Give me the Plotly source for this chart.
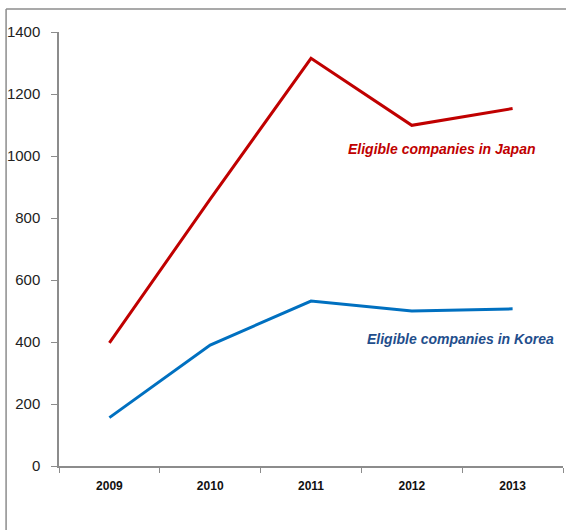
import plotly.graph_objects as go

years = ["2009", "2010", "2011", "2012", "2013"]
japan = [397, 861, 1315, 1099, 1153]
korea = [156, 390, 532, 500, 507]
y_ticks = [0, 200, 400, 600, 800, 1000, 1200, 1400]

fig = go.Figure()
fig.add_trace(go.Scatter(x=years, y=japan, mode="lines",
                         line=dict(color="#c00000", width=3), name="Japan"))
fig.add_trace(go.Scatter(x=years, y=korea, mode="lines",
                         line=dict(color="#0070c0", width=3), name="Korea"))

fig.add_annotation(x=3.3, y=1022, xref="x", yref="y", showarrow=False,
                   text="<b><i>Eligible companies in Japan</i></b>",
                   font=dict(family="Liberation Sans", size=14, color="#c00000"))
fig.add_annotation(x=3.48, y=409, xref="x", yref="y", showarrow=False,
                   text="<b><i>Eligible companies in Korea</i></b>",
                   font=dict(family="Liberation Sans", size=14, color="#1f4e8c"))

# outer border (top and left edges visible)
fig.add_shape(type="line", xref="paper", yref="paper", x0=-0.105, x1=1.1,
              y0=1.053, y1=1.053, line=dict(color="#8c8c8c", width=1.5))
fig.add_shape(type="line", xref="paper", yref="paper", x0=-0.105, x1=-0.105,
              y0=1.053, y1=-0.3, line=dict(color="#8c8c8c", width=1.5))

fig.update_layout(
    width=566, height=530,
    margin=dict(l=59, r=3, t=32, b=64),
    paper_bgcolor="white", plot_bgcolor="white",
    showlegend=False,
    xaxis=dict(type="category", showgrid=False, showline=True, linecolor="#8c8c8c",
               linewidth=1.5, ticks="outside", tickson="boundaries", ticklen=5,
               tickcolor="#8c8c8c", range=[-0.5, 4.5], ticklabelstandoff=8,
               tickfont=dict(family="Liberation Sans", size=12, color="#111"),
               tickprefix="<b>", ticksuffix="</b>"),
    yaxis=dict(range=[0, 1400], tickvals=y_ticks, showgrid=False, zeroline=False,
               showline=True, linecolor="#8c8c8c", linewidth=1.5,
               ticks="outside", ticklen=6, tickcolor="#8c8c8c", ticklabelstandoff=8,
               tickfont=dict(family="Liberation Sans", size=15, color="#222")),
)

fig.write_html("out.html")
